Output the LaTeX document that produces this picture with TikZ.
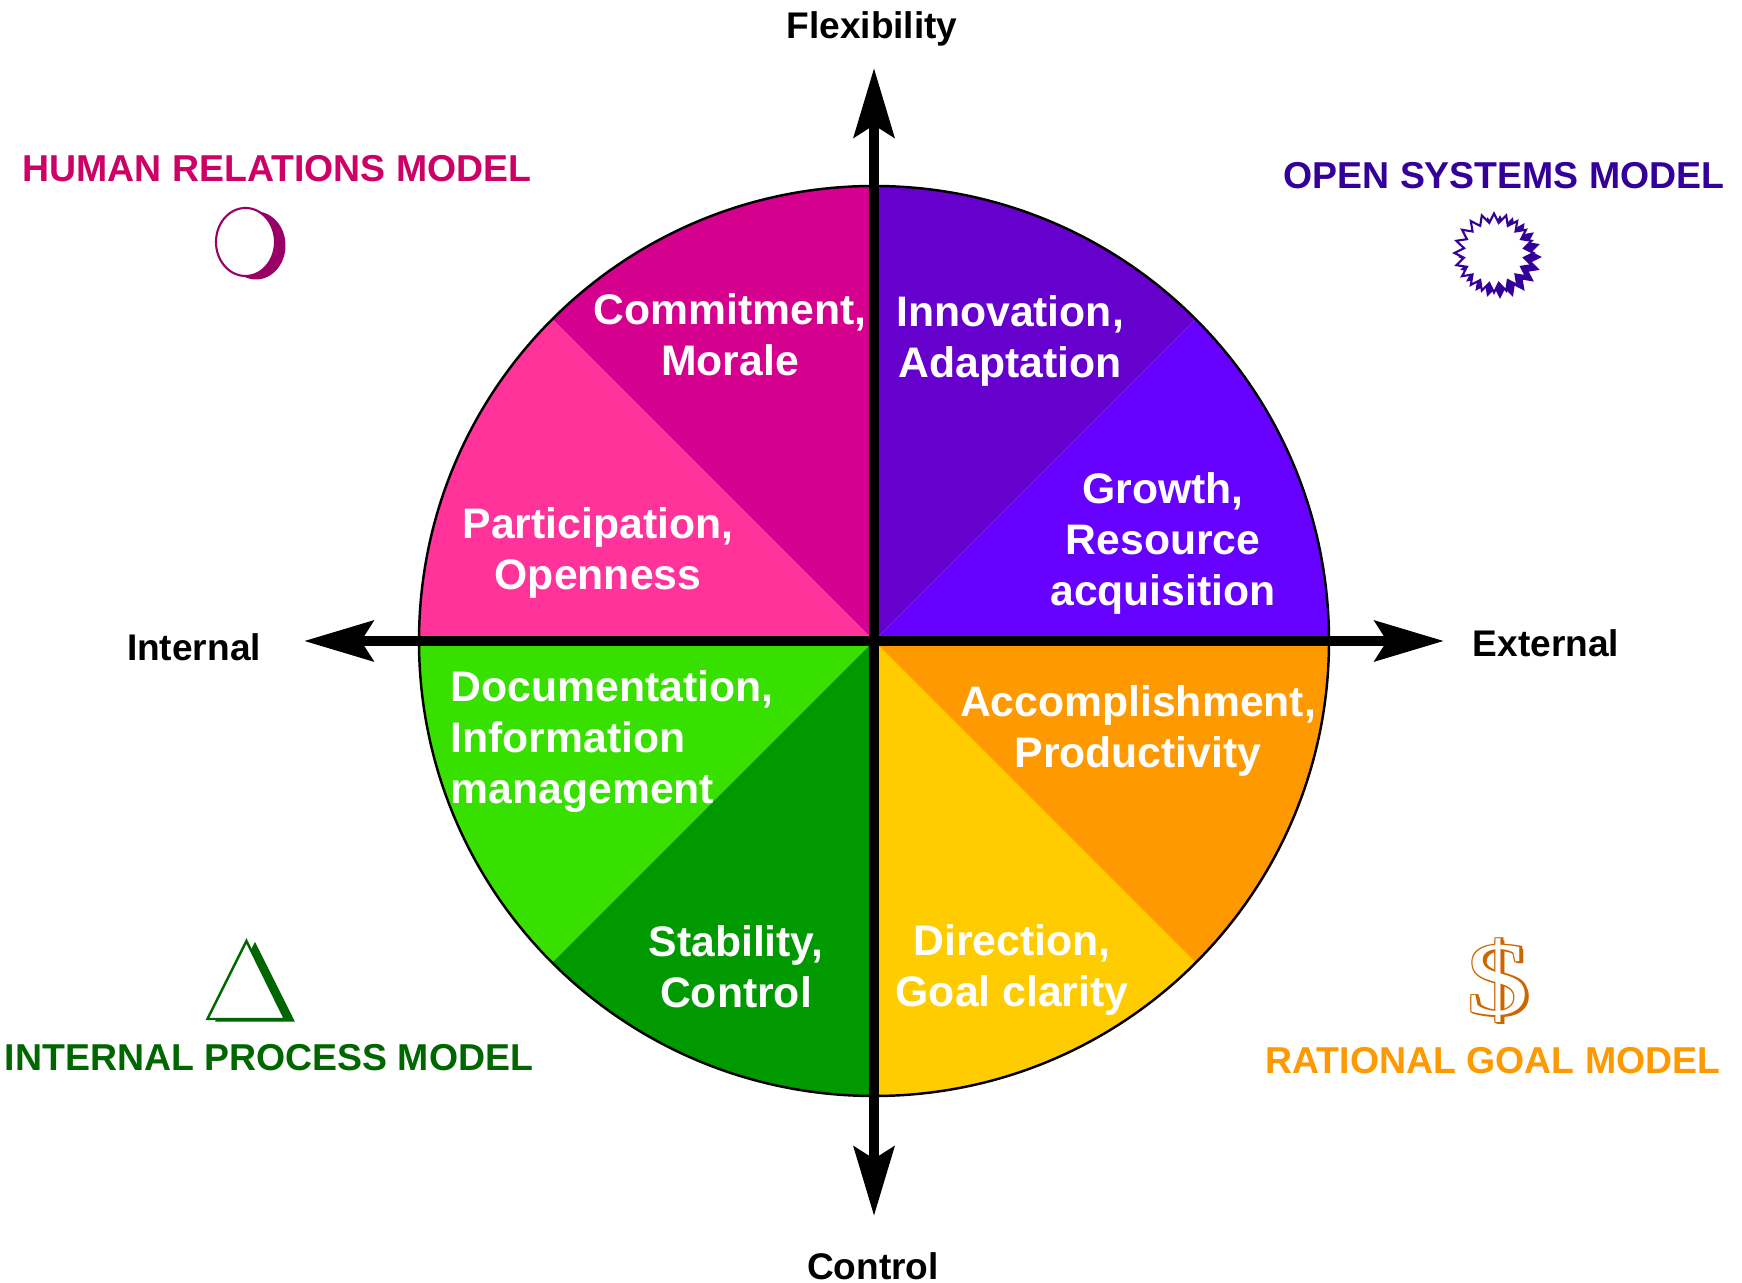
\documentclass[tikz,border=0pt]{standalone}
\usepackage{xcolor}
\usepackage{fontspec}
\setmainfont{Liberation Sans}
\newfontfamily\dollarfont{Liberation Serif}
\usetikzlibrary{arrows.meta}
\usetikzlibrary{shapes}
\definecolor{humandark}{RGB}{214,0,143}
\definecolor{humanpink}{RGB}{255,51,153}
\definecolor{humantext}{RGB}{204,0,102}
\definecolor{humanmark}{RGB}{153,0,102}
\definecolor{opendark}{RGB}{102,0,204}
\definecolor{openlight}{RGB}{102,0,255}
\definecolor{opentext}{RGB}{51,0,153}
\definecolor{goalorange}{RGB}{255,153,0}
\definecolor{goalyellow}{RGB}{255,204,0}
\definecolor{goalmark}{RGB}{204,102,0}
\definecolor{processlight}{RGB}{56,224,0}
\definecolor{processdark}{RGB}{0,153,0}
\definecolor{processtext}{RGB}{0,102,0}
\tikzset{
  wedgelabel/.style={text=white,font=\fontsize{12.15}{14.5}\selectfont\bfseries,align=center,inner sep=0},
  axislabel/.style={font=\fontsize{10.55}{12}\selectfont\bfseries,inner sep=0},
  modellabel/.style={font=\fontsize{10.65}{12}\selectfont\bfseries,inner sep=0},
  axisline/.style={line width=3.1pt,{Stealth[length=6.9mm,width=4.0mm,inset=1.2mm]}-{Stealth[length=6.9mm,width=4.0mm,inset=1.2mm]}},
  spark/.style={star,star points=20,star point ratio=1.3,minimum size=7.9mm,inner sep=0,draw=opentext,line width=0.6pt},
  dollarmark/.style={font=\fontsize{31}{31}\selectfont\dollarfont,inner sep=0,xscale=1.15,yscale=0.96,transform shape}
}

\begin{document}
\begin{tikzpicture}
      \useasboundingbox (-8.74,-6.42) rectangle (8.68,6.41);
      \fill[humandark] (0,0) -- (0,4.55) arc (90:135:4.55) -- cycle;
      \fill[humanpink] (0,0) -- (-4.55,0) arc (180:135:4.55) -- cycle;
      \fill[opendark] (0,0) -- (0,4.55) arc (90:45:4.55) -- cycle;
      \fill[openlight] (0,0) -- (4.55,0) arc (0:45:4.55) -- cycle;
      \fill[processlight] (0,0) -- (-4.55,0) arc (180:225:4.55) -- cycle;
      \fill[processdark] (0,0) -- (0,-4.55) arc (270:225:4.55) -- cycle;
      \fill[goalyellow] (0,0) -- (0,-4.55) arc (270:315:4.55) -- cycle;
      \fill[goalorange] (0,0) -- (4.55,0) arc (360:315:4.55) -- cycle;
      \draw[line width=0.7pt] (0,0) circle (4.55);
      % axes
      \coordinate (flexend) at (0,5.73);
      \coordinate (controlend) at (0,-5.75);
      \coordinate (internalend) at (-5.70,0);
      \coordinate (externalend) at (5.70,0);
      \draw[axisline] (controlend) -- (flexend);
      \draw[axisline] (internalend) -- (externalend);
      \node[axislabel] (flexibility) at (-0.02,6.125) {Flexibility};
      \node[axislabel] (control) at (-0.01,-6.25) {Control};
      \node[axislabel] (internal) at (-6.80,-0.06) {Internal};
      \node[axislabel] (external) at (6.72,-0.02) {External};
      % wedge texts
      \node[wedgelabel] (commitment) at (-1.44,3.06) {Commitment,\\Morale};
      \node[wedgelabel] (participation) at (-2.76,0.885) {Participation,\\Openness};
      \node[wedgelabel] (innovation) at (1.36,3.00) {Innovation,\\Adaptation};
      \node[wedgelabel] (growth) at (2.89,0.975) {Growth,\\Resource\\acquisition};
      \node[wedgelabel,align=left,anchor=west] (documentation) at (-4.24,-1.005) {Documentation,\\Information\\management};
      \node[wedgelabel] (stability) at (-1.38,-3.26) {Stability,\\Control};
      \node[wedgelabel] (direction) at (1.38,-3.285) {Direction,\\Goal clarity};
      \node[wedgelabel] (accomplishment) at (2.64,-0.895) {Accomplishment,\\Productivity};
      % models
      \node[modellabel,text=humantext] (humanmodel) at (-5.97,4.725) {HUMAN RELATIONS MODEL};
      \node[modellabel,text=opentext] (openmodel) at (6.30,4.655) {OPEN SYSTEMS MODEL};
      \node[modellabel,text=processtext] (processmodel) at (-6.05,-4.165) {INTERNAL PROCESS MODEL};
      \node[modellabel,text=goalorange] (goalmodel) at (6.19,-4.20) {RATIONAL GOAL MODEL};
      % marks
      \fill[humanmark] (-6.18,3.955) ellipse (0.295 and 0.34);
      \draw[humanmark,fill=white,line width=0.6pt] (-6.285,3.99) ellipse (0.295 and 0.34);
      \node[spark,fill=opentext] (sparkback) at (6.26,3.84) {};
      \node[spark,fill=white] (sparkfront) at (6.20,3.88) {};
      \draw[processtext,fill=processtext,line width=0.3pt] (-6.19,-3.02) -- (-6.58,-3.80) -- (-5.80,-3.80) -- cycle;
      \draw[processtext,fill=white,line width=0.7pt] (-6.275,-3.00) -- (-6.665,-3.78) -- (-5.89,-3.78) -- cycle;
      \foreach \dx/\dy in {0.04/-0.02,0.03/0.01,0.01/-0.02,-0.01/0.01,-0.01/-0.01}
        \node[dollarmark,text=goalmark] at (6.24+\dx,-3.40+\dy) {\$};
      \node[dollarmark,text=white] (dollar) at (6.24,-3.40) {\$};
    \end{tikzpicture}
\end{document}
